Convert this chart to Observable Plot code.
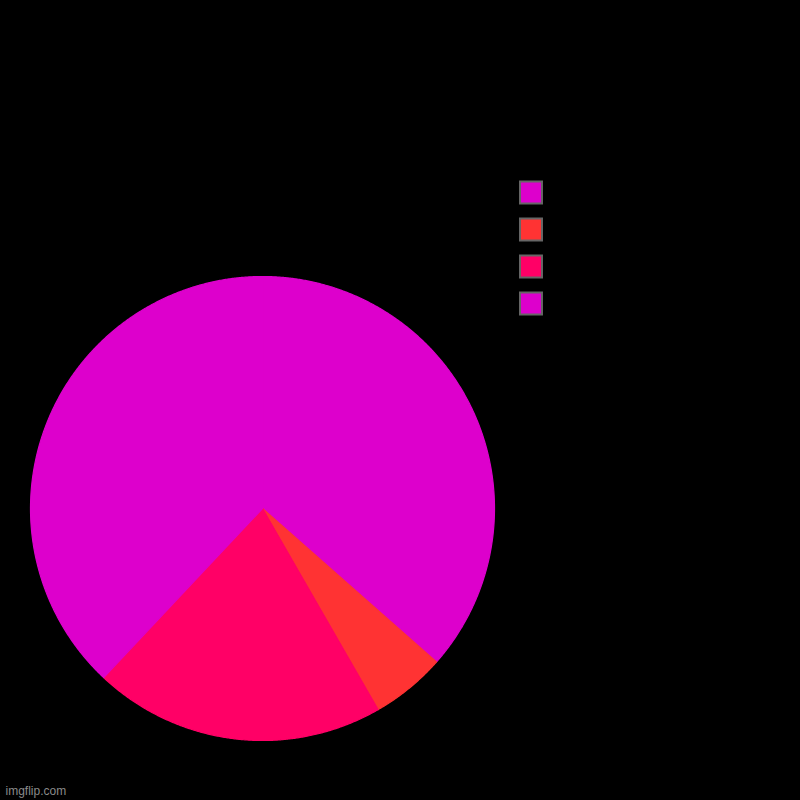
<!DOCTYPE html>
<html><head><meta charset="utf-8">
<script src="https://cdn.jsdelivr.net/npm/d3@7"></script>
<script src="https://cdn.jsdelivr.net/npm/@observablehq/plot@0.6"></script>
<style>html,body{margin:0;padding:0;background:#000;}</style>
</head><body><div id="chart"></div>
<script>
// Data
const labels = ["", "", "", ""];
const values = [36.5, 5.2, 20.3, 38.0];
const colors = ["#dd00cc", "#ff3333", "#ff0066", "#dd00cc"];
const watermark = "imgflip.com";

// Layout (pixels)
const W = 800, H = 800;
const cx = 262, cy = 508, R = 232;
const legendX = 530.5, legendY0 = 192, legendStep = 37;

const arcs = d3.pie().sort(null).value(d => d)(values);
const slices = arcs.map((a, i) => {
  const n = Math.max(2, Math.ceil((a.endAngle - a.startAngle) / 0.005));
  const ring = [[cx, cy]];
  for (let k = 0; k <= n; k++) {
    const t = a.startAngle + (a.endAngle - a.startAngle) * k / n;
    ring.push([cx + R * Math.sin(t), cy - R * Math.cos(t)]);
  }
  ring.push([cx, cy]);
  return {type: "Feature", properties: {color: colors[i], label: labels[i]},
          geometry: {type: "Polygon", coordinates: [ring]}};
});

const legend = values.map((v, i) => ({x: legendX, y: legendY0 + i * legendStep, color: colors[i], label: labels[i]}));

const chart = Plot.plot({
  width: W, height: H,
  margin: 0,
  projection: "identity",
  style: {background: "#000"},
  marks: [
    Plot.geo(slices, {fill: d => d.properties.color, stroke: d => d.properties.color, strokeWidth: 1.2, strokeLinejoin: "round"}),
    Plot.dot(legend, {x: "x", y: "y", symbol: "square", r: 12.4, fill: "color", stroke: "#666", strokeWidth: 2}),
    Plot.text(legend, {x: d => d.x + 22, y: "y", text: "label", fill: "#fff", textAnchor: "start", fontSize: 12}),
    Plot.text([watermark], {x: () => 5, y: () => 791, text: d => d, fill: "#8a8a8a", textAnchor: "start", fontSize: 12, fontFamily: "Liberation Sans, Arial, sans-serif"})
  ]
});
document.getElementById("chart").appendChild(chart);
</script>
</body></html>
